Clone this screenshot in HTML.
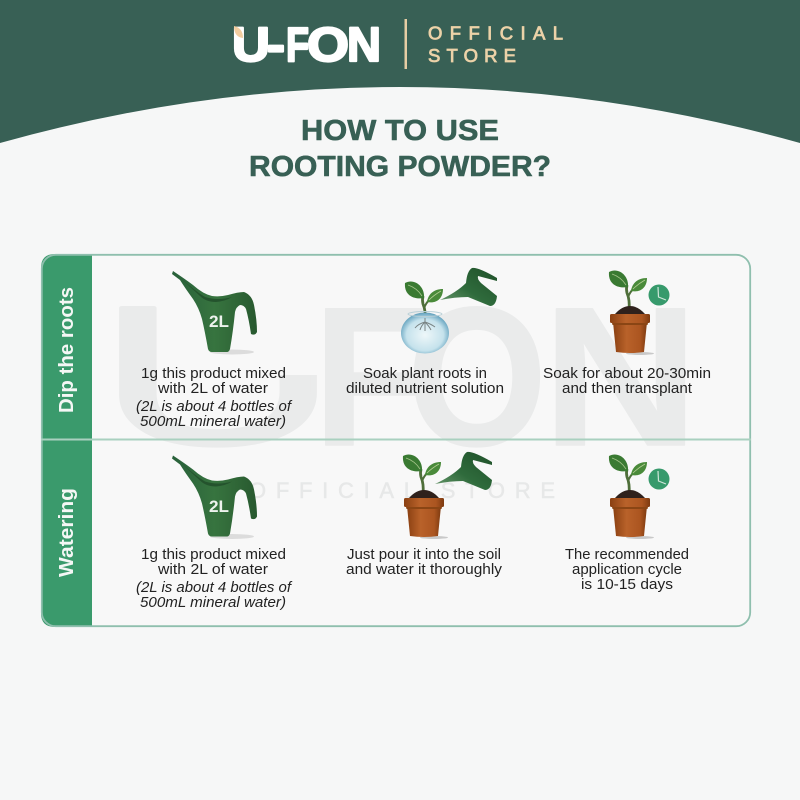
<!DOCTYPE html>
<html><head><meta charset="utf-8"><style>html,body{margin:0;padding:0;background:#f6f7f7}svg{display:block}</style></head><body>
<svg width="800" height="800" viewBox="0 0 800 800" xmlns="http://www.w3.org/2000/svg" font-family="'Liberation Sans',sans-serif">
<defs>
<linearGradient id="canfill" x1="0" x2="1" y1="0" y2="0"><stop offset="0" stop-color="#28603a"/><stop offset=".5" stop-color="#37743f"/><stop offset="1" stop-color="#28592f"/></linearGradient>
<linearGradient id="can2" x1="0" x2="1" y1="1" y2="0"><stop offset="0" stop-color="#6d9b6f"/><stop offset=".45" stop-color="#2f6b3c"/><stop offset="1" stop-color="#1f5029"/></linearGradient>
<linearGradient id="potfill" x1="0" x2="1"><stop offset="0" stop-color="#8a4012"/><stop offset=".4" stop-color="#b9622a"/><stop offset=".8" stop-color="#ab5520"/><stop offset="1" stop-color="#7d3a10"/></linearGradient>
<radialGradient id="bowlfill" cx=".5" cy=".55" r=".55"><stop offset="0" stop-color="#eef7f9"/><stop offset=".7" stop-color="#c5e2ec"/><stop offset="1" stop-color="#5f9fbc"/></radialGradient>
<g id="bigcan">
<ellipse cx="232" cy="352" rx="22" ry="2.500" fill="#dcdcdc"/>
<path d="M173 271 Q185 279 193 285 Q203 294 212 296 Q220 297 228 295 Q238 292 244 292 Q252 295 254 305 Q257 320 257 332 Q255 336 251 334 Q249 320 246 309 Q244 305 240 305 Q236 307 235 312 Q233 332 230 349 Q229 352 227 352 L212 352 Q209 352 208 349 Q205 332 202 319 Q199 308 193 299 Q185 288 180 280 Q176 277 172 274 Z" fill="url(#canfill)"/>
<path d="M182 279 Q195 291 205 297 Q218 301 232 297 Q226 301 216 302 Q206 302 200 296 Q190 287 182 279Z" fill="#24532d"/>
</g>
<g id="plant">
<path d="M629 310 Q630 300 627 293 Q626 289 627 285" stroke="#4f6f3a" stroke-width="2.800" fill="none"/>
<path d="M628 297 Q630 292 634 288" stroke="#4f6f3a" stroke-width="2" fill="none"/>
<path d="M609 272 C618 267 629 275 628 287 C616 289 608 283 609 272Z" fill="#3a7a32"/>
<path d="M612 274 Q621 277 626 285" stroke="#a5c58a" stroke-width=".8" fill="none"/>
<path d="M647 278 C647 287 641 293 631 291 C632 283 638 278 647 278Z" fill="#4a8a3a"/>
<path d="M645 280 Q638 284 633 289" stroke="#b5cf94" stroke-width=".8" fill="none"/>
</g>
<g id="flowerpot">
<use href="#plant"/>
<path d="M615 314 Q622 306 630 306 Q638 306 645 314Z" fill="#2f211c"/>
<ellipse cx="640" cy="353.500" rx="14" ry="1.500" fill="#c9c9c9"/>
<path d="M613 322 L647 322 L644 352 Q630 354 616 352Z" fill="url(#potfill)"/>
<rect x="610" y="314" width="40" height="9" rx="1.500" fill="url(#potfill)"/>
<path d="M612 323 L648 323 L647.500 325 L612.500 325Z" fill="#8a4514"/>
</g>
<g id="clock">
<circle cx="659" cy="295" r="10.500" fill="#379a6c"/>
<path d="M658 287 L658.500 297 L666 300" stroke="#cfe6da" stroke-width="1.200" fill="none"/>
</g>
<g id="smallcan">
<path d="M440 300 Q457 292 466 283 Q467 271 472 268 Q478 267 497 278 L497 281 L478 276 Q477 279 481 283 L497 296 Q496 306 490 306 L468 297 Q455 297 440 300Z" fill="url(#can2)"/>
</g>
</defs>
<rect width="800" height="800" fill="#f6f7f7"/>
<path d="M0 0H800V143Q400 31 0 143Z" fill="#386055"/>
<g fill="#fff" stroke="#fff" stroke-width="2.200" stroke-linejoin="round" font-weight="700" font-size="48">
<text x="232" y="61" textLength="38" lengthAdjust="spacingAndGlyphs">U</text>
<text x="267" y="61" textLength="18" lengthAdjust="spacingAndGlyphs">-</text>
<text x="286" y="61" textLength="23" lengthAdjust="spacingAndGlyphs">F</text>
<text x="307" y="61" textLength="42" lengthAdjust="spacingAndGlyphs">O</text>
<text x="347" y="61" textLength="34" lengthAdjust="spacingAndGlyphs">N</text>
</g>
<path d="M234 26 Q243 28 243 38 Q234 37 234 26Z" fill="#f3cda0"/>
<rect x="404.500" y="19" width="2.500" height="50" fill="#e6cda4"/>
<g fill="#ecd2a8" stroke="#ecd2a8" stroke-width=".8" font-size="18.500">
<text x="428" y="39.500" textLength="135">OFFICIAL</text>
<text x="428" y="62" textLength="88">STORE</text>
</g>
<g fill="#386055" stroke="#386055" stroke-width=".6" stroke-linejoin="round" font-weight="700" font-size="29">
<text x="301" y="140" textLength="198" lengthAdjust="spacingAndGlyphs">HOW TO USE</text>
<text x="249" y="176" textLength="302" lengthAdjust="spacingAndGlyphs">ROOTING POWDER?</text>
</g>
<rect x="41" y="254" width="710" height="373" rx="14" fill="#f8f8f8"/>
<text x="96" y="444" textLength="244" lengthAdjust="spacingAndGlyphs" font-size="198" fill="#eaebeb" stroke="#eaebeb" stroke-width="3.500" stroke-linejoin="round">U</text>
<rect x="262" y="295" width="65" height="80" fill="#f8f8f8"/>
<g fill="#eaebeb" font-weight="700" font-size="198" stroke="#eaebeb" stroke-width="1.500" stroke-linejoin="round">
<text x="313" y="445" textLength="116" lengthAdjust="spacingAndGlyphs">F</text>
<text x="407" y="445" textLength="140" lengthAdjust="spacingAndGlyphs">O</text>
<text x="542" y="445" textLength="157" lengthAdjust="spacingAndGlyphs">N</text>
</g>
<text x="249" y="498" font-size="22" fill="#e7e8e8" stroke="#e7e8e8" stroke-width=".5" textLength="306">OFFICIAL STORE</text>
<path d="M92 254H55Q41 254 41 268V613Q41 627 55 627H92Z" fill="#3a9a6c"/>
<rect x="41.800" y="254.800" width="708.400" height="371.400" rx="14" fill="none" stroke="#8fbfae" stroke-width="1.800"/>
<rect x="41" y="438.500" width="710" height="2" fill="#a9d0bf"/>
<g fill="#f4f7f5" font-weight="700" font-size="20">
<text transform="translate(73 413) rotate(-90)" textLength="126" lengthAdjust="spacingAndGlyphs">Dip the roots</text>
<text transform="translate(73 577) rotate(-90)" textLength="89" lengthAdjust="spacingAndGlyphs">Watering</text>
</g>
<use href="#bigcan"/>
<use href="#bigcan" y="184.500"/>
<g fill="#eef3ee" font-weight="700" font-size="17">
<text x="209" y="327" textLength="20" lengthAdjust="spacingAndGlyphs">2L</text>
<text x="209" y="512" textLength="20" lengthAdjust="spacingAndGlyphs">2L</text>
</g>
<use href="#plant" x="-204" y="11"/>
<ellipse cx="425" cy="333" rx="24" ry="20.500" fill="url(#bowlfill)"/>
<ellipse cx="425" cy="314" rx="17" ry="2.500" fill="none" stroke="#b8cfd6" stroke-width="1"/>
<path d="M425 318 L425 322 M425 322 Q418 324 415 328 M425 322 Q421 326 420 330 M425 322 Q429 326 431 330 M425 322 Q431 324 435 327 M425 322 L425 331" stroke="#7a8484" stroke-width="1" fill="none"/>
<use href="#smallcan"/>
<use href="#flowerpot"/>
<use href="#clock"/>
<use href="#flowerpot" x="-206" y="184"/>
<use href="#smallcan" x="-5" y="184"/>
<use href="#flowerpot" y="184"/>
<use href="#clock" y="184"/>
<g fill="#222" font-size="14.500">
<text x="141" y="378" textLength="145" lengthAdjust="spacingAndGlyphs">1g this product mixed</text>
<text x="158" y="393" textLength="110" lengthAdjust="spacingAndGlyphs">with 2L of water</text>
<text x="136" y="411" textLength="155" lengthAdjust="spacingAndGlyphs" font-style="italic">(2L is about 4 bottles of</text>
<text x="140" y="426" textLength="146" lengthAdjust="spacingAndGlyphs" font-style="italic">500mL mineral water)</text>
<text x="363" y="378" textLength="124" lengthAdjust="spacingAndGlyphs">Soak plant roots in</text>
<text x="346" y="393" textLength="158" lengthAdjust="spacingAndGlyphs">diluted nutrient solution</text>
<text x="543" y="378" textLength="168" lengthAdjust="spacingAndGlyphs">Soak for about 20-30min</text>
<text x="562" y="393" textLength="130" lengthAdjust="spacingAndGlyphs">and then transplant</text>
<text x="141" y="559" textLength="145" lengthAdjust="spacingAndGlyphs">1g this product mixed</text>
<text x="158" y="574" textLength="110" lengthAdjust="spacingAndGlyphs">with 2L of water</text>
<text x="136" y="592" textLength="155" lengthAdjust="spacingAndGlyphs" font-style="italic">(2L is about 4 bottles of</text>
<text x="140" y="607" textLength="146" lengthAdjust="spacingAndGlyphs" font-style="italic">500mL mineral water)</text>
<text x="347" y="559" textLength="154" lengthAdjust="spacingAndGlyphs">Just pour it into the soil</text>
<text x="346" y="574" textLength="156" lengthAdjust="spacingAndGlyphs">and water it thoroughly</text>
<text x="565" y="559" textLength="124" lengthAdjust="spacingAndGlyphs">The recommended</text>
<text x="572" y="574" textLength="110" lengthAdjust="spacingAndGlyphs">application cycle</text>
<text x="581" y="589" textLength="92" lengthAdjust="spacingAndGlyphs">is 10-15 days</text>
</g>
</svg>
</body></html>
